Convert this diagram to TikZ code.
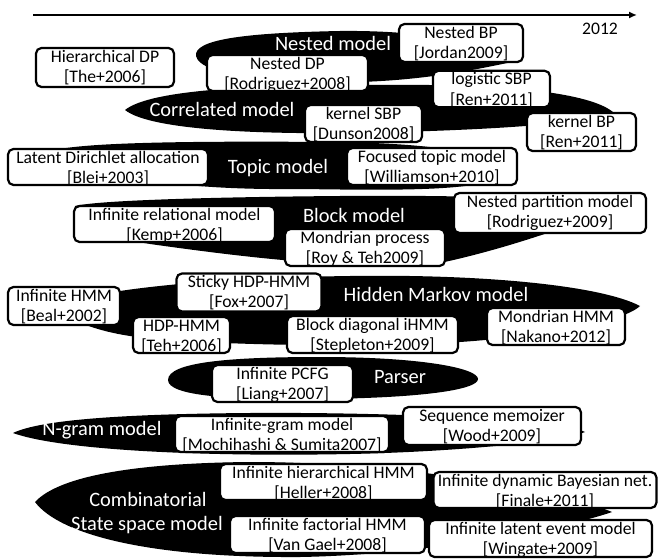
\documentclass[tikz,border=0pt]{standalone}
\usepackage{fontspec}
\setmainfont{Carlito}
\usetikzlibrary{arrows.meta}
\newcommand\mybfont{\fontsize{17.7}{20.5}\selectfont}
\newcommand\mylfont{\fontsize{20.5}{23}\selectfont}
\newcommand\bt[3]{\rule{0pt}{14bp}\smash{#2}\\{}\smash{#3}\rule[\dimexpr34.5bp-#1bp\relax]{0pt}{\dimexpr#1bp-29.5bp\relax}}
\tikzset{
  box/.style={draw=black, line width=2.2bp, fill=white, rounded corners=5.5bp,
              align=center, inner sep=0pt, font=\mybfont},
  lbl/.style={text=white, font=\mylfont, anchor=base, inner sep=0pt},
  blob/.style={fill=black},
  axis/.style={line width=1.8bp, -{Latex[length=8bp,width=7bp]}}
}
\begin{document}
\begin{tikzpicture}[x=1bp,y=-1bp]
\useasboundingbox (0,0) rectangle (658,559);
% time axis
\coordinate (axL) at (33,15);
\coordinate (axR) at (637,15);
\draw[axis] (axL) -- (axR);
\node[font=\mybfont, anchor=base, inner sep=0pt] (yr) at (600,34.5) {2012};

% black model shapes
% Nested model
\fill[blob] (196,56) .. controls (194,40) and (240,33) .. (340,31)
  .. controls (430,30) and (500,45) .. (512,62)
  .. controls (465,72) and (420,80) .. (360,82)
  .. controls (280,85) and (200,76) .. (196,56) -- cycle;
% Correlated model
\fill[blob] (125,110) .. controls (150,90) and (250,84) .. (400,85)
  .. controls (520,84) and (595,95) .. (614,113)
  .. controls (580,124) and (500,129) .. (400,132)
  .. controls (260,136) and (150,130) .. (125,110) -- cycle;
% Topic model
\fill[blob] (55,150) .. controls (90,142) and (200,141) .. (330,142)
  .. controls (460,143) and (520,160) .. (500,178)
  .. controls (470,192) and (380,190) .. (300,189)
  .. controls (200,190) and (110,182) .. (55,150) -- cycle;
% Block model
\fill[blob] (75,206) .. controls (100,200) and (220,197) .. (340,196)
  .. controls (480,195) and (600,198) .. (600,215)
  .. controls (570,225) and (510,248) .. (440,263)
  .. controls (350,270) and (250,258) .. (150,244)
  .. controls (100,236) and (75,220) .. (75,206) -- cycle;
% Hidden Markov model
\fill[blob] (55,305) .. controls (100,290) and (200,278) .. (350,276)
  .. controls (480,274) and (600,285) .. (640,306)
  .. controls (620,325) and (520,338) .. (460,342)
  .. controls (350,348) and (200,345) .. (130,336)
  .. controls (90,330) and (60,316) .. (55,305) -- cycle;
% Parser
\fill[blob] (168,380) .. controls (168,362) and (230,357) .. (320,357)
  .. controls (420,357) and (478,368) .. (478,379)
  .. controls (478,390) and (420,398) .. (320,399)
  .. controls (230,400) and (168,396) .. (168,380) -- cycle;
% N-gram model
\fill[blob] (13,433) .. controls (40,420) and (120,414) .. (250,413)
  .. controls (400,412) and (560,420) .. (585,432)
  .. controls (560,442) and (450,452) .. (350,454)
  .. controls (200,457) and (60,450) .. (13,433) -- cycle;
% Combinatorial state space model
\fill[blob] (35,502) .. controls (60,475) and (140,463) .. (250,462)
  .. controls (400,462) and (560,490) .. (612,512)
  .. controls (560,530) and (420,555) .. (300,557)
  .. controls (150,558) and (60,535) .. (35,502) -- cycle;

% model labels
\node[lbl] (lnested) at (333,50.7) {Nested model};
\node[lbl] (lcorr) at (222,116.7) {Correlated model};
\node[lbl] (ltopic) at (278,173.3) {Topic model};
\node[lbl] (lblock) at (354,222.7) {Block model};
\node[lbl] (lhmm) at (436,301.7) {Hidden Markov model};
\node[lbl] (lparser) at (400,383) {Parser};
\node[lbl] (lngram) at (102,435) {N-gram model};
\node[lbl] (lcomb) at (148,506.7) {Combinatorial};
\node[lbl] (lssm) at (147,530) {State space model};

% method boxes
\node[box, minimum width=138bp, minimum height=39bp] (hdp) at (105,67.5) {\bt{39}{Hierarchical DP}{[The+2006]}};
\node[box, minimum width=161bp, minimum height=36bp] (ndp) at (287.5,73) {\bt{36}{Nested DP}{[Rodriguez+2008]}};
\node[box, minimum width=124bp, minimum height=38bp] (nbp) at (461,43) {\bt{38}{Nested BP}{[Jordan2009]}};
\node[box, minimum width=117bp, minimum height=36.5bp] (lsbp) at (491.5,89) {\bt{36.5}{logistic SBP}{[Ren+2011]}};
\node[box, minimum width=117bp, minimum height=37bp] (ksbp) at (363.5,123.5) {\bt{37}{kernel SBP}{[Dunson2008]}};
\node[box, minimum width=109bp, minimum height=38bp] (kbp) at (581.5,132) {\bt{38}{kernel BP}{[Ren+2011]}};
\node[box, minimum width=200bp, minimum height=36bp] (lda) at (108,167) {\bt{36}{Latent Dirichlet allocation}{[Blei+2003]}};
\node[box, minimum width=170bp, minimum height=37bp] (ftm) at (432,166.5) {\bt{37}{Focused topic model}{[Williamson+2010]}};
\node[box, minimum width=201bp, minimum height=36bp] (irm) at (174.5,224) {\bt{36}{Infinite relational model}{[Kemp+2006]}};
\node[box, minimum width=160bp, minimum height=37bp] (mp) at (365,247.5) {\bt{37}{Mondrian process}{[Roy \& Teh2009]}};
\node[box, minimum width=192bp, minimum height=40bp] (npm) at (550,213) {\bt{40}{Nested partition model}{[Rodriguez+2009]}};
\node[box, minimum width=145bp, minimum height=38bp] (sticky) at (249,292.5) {\bt{38}{Sticky HDP-HMM}{[Fox+2007]}};
\node[box, minimum width=112bp, minimum height=38bp] (ihmm) at (64,306) {\bt{38}{Infinite HMM}{[Beal+2002]}};
\node[box, minimum width=97bp, minimum height=36bp] (hdphmm) at (181.5,335) {\bt{36}{HDP-HMM}{[Teh+2006]}};
\node[box, minimum width=171bp, minimum height=37bp] (bdi) at (372.5,334.5) {\bt{37}{Block diagonal iHMM}{[Stepleton+2009]}};
\node[box, minimum width=138bp, minimum height=37bp] (mhmm) at (556,326.5) {\bt{37}{Mondrian HMM}{[Nakano+2012]}};
\node[box, minimum width=141bp, minimum height=37bp] (pcfg) at (282.5,383.5) {\bt{37}{Infinite PCFG}{[Liang+2007]}};
\node[box, minimum width=214bp, minimum height=36bp] (igram) at (282,434) {\bt{36}{Infinite-gram model}{[Mochihashi \& Sumita2007]}};
\node[box, minimum width=178bp, minimum height=38bp] (seqm) at (492,426) {\bt{38}{Sequence memoizer}{[Wood+2009]}};
\node[box, minimum width=207bp, minimum height=36bp] (ihhmm) at (323.5,482) {\bt{36}{Infinite hierarchical HMM}{[Heller+2008]}};
\node[box, minimum width=223bp, minimum height=36bp] (idbn) at (545,490) {\bt{36}{Infinite dynamic Bayesian net.}{[Finale+2011]}};
\node[box, minimum width=195bp, minimum height=37bp] (ifhmm) at (327.5,534.5) {\bt{37}{Infinite factorial HMM}{[Van Gael+2008]}};
\node[box, minimum width=223bp, minimum height=37bp] (ilem) at (540.5,538.5) {\bt{37}{Infinite latent event model}{[Wingate+2009]}};
\end{tikzpicture}
\end{document}
